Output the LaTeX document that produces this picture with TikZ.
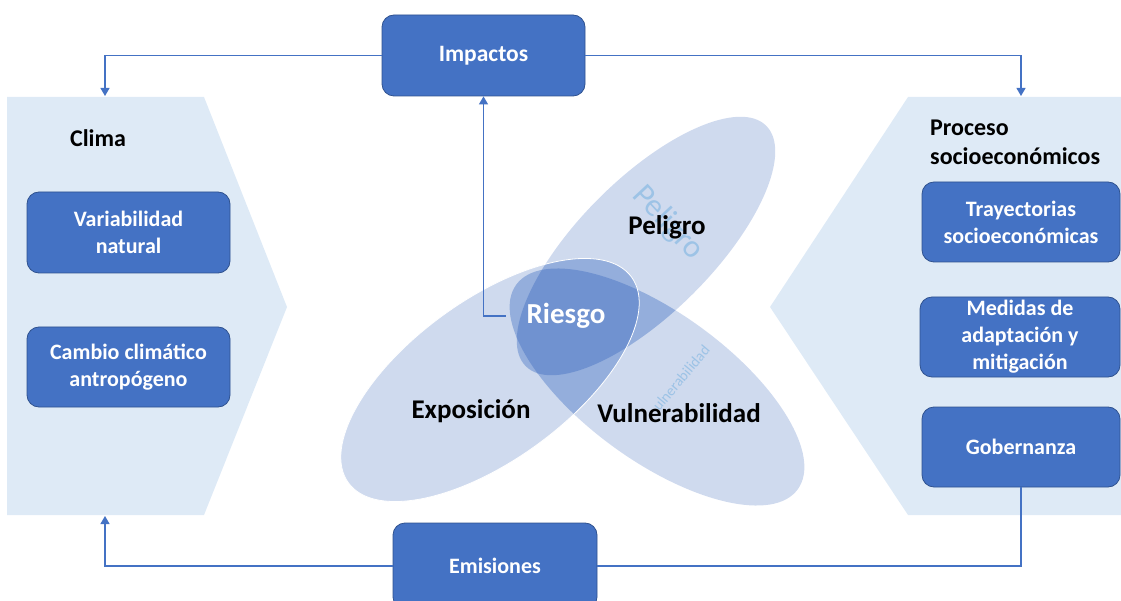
\documentclass[tikz,border=0pt]{standalone}
\usepackage{fontspec}
\setmainfont{Carlito}
\usetikzlibrary{arrows.meta}
\definecolor{boxblue}{HTML}{4472C4}
\definecolor{boxborder}{HTML}{2F528F}
\definecolor{panelblue}{HTML}{DEEAF6}
\definecolor{ellL}{HTML}{CFDAEE}
\definecolor{ellM}{HTML}{94AEDC}
\definecolor{ellD}{HTML}{7092D0}
\definecolor{ghostblue}{HTML}{9DC3E6}
\def\ellP{(646,246) ellipse [x radius=170pt, y radius=67pt]}
\def\ellE{(490,380) ellipse [x radius=175pt, y radius=80pt]}
\def\ellV{(657,387) ellipse [x radius=174pt, y radius=74pt]}
\tikzset{
  rotP/.style={rotate around={45:(646,246)}},
  rotE/.style={rotate around={36:(490,380)}},
  rotV/.style={rotate around={-36:(657,387)}},
  bluebox/.style={rectangle, rounded corners=12pt, fill=boxblue, draw=boxborder,
    line width=0.8pt, text=white, font=\bfseries\fontsize{22}{27}\selectfont,
    align=center, inner sep=0pt},
  link/.style={draw=boxblue, line width=1.2pt},
  arr/.style={link, -{Triangle[width=9pt,length=8pt]}},
  lbl/.style={font=\bfseries\fontsize{27}{32}\selectfont, text=black, inner sep=0pt},
  head/.style={font=\bfseries\fontsize{24}{29}\selectfont, text=black, inner sep=0pt, align=left},
  ghost/.style={text=ghostblue, inner sep=0pt}
}
\begin{document}
\begin{tikzpicture}[x=1pt,y=-1pt]
\useasboundingbox (0,0) rectangle (1121,601);
% side panels
\fill[panelblue] (7,97) -- (204,97) -- (287,307) -- (204,515) -- (7,515) -- cycle;
\fill[panelblue] (908,97) -- (1121,97) -- (1121,515) -- (908,515) -- (770,307) -- cycle;
% ellipses
\fill[ellL, rotP] \ellP;
\fill[ellL, rotE] \ellE;
\fill[ellL, rotV] \ellV;
\begin{scope}
  \clip[rotP] \ellP;
  \fill[ellM, rotE] \ellE;
  \fill[ellM, rotV] \ellV;
\end{scope}
\begin{scope}
  \clip[rotE] \ellE;
  \fill[ellM, rotV] \ellV;
\end{scope}
\begin{scope}
  \clip[rotP] \ellP;
  \clip[rotE] \ellE;
  \fill[ellD, rotV] \ellV;
\end{scope}
\draw[white, line width=0.8pt, rotE] \ellE;
% ghost texts
\node[ghost, rotate=-47, font=\fontsize{32}{36}\selectfont] (gpel) at (668,223) {Peligro};
\node[ghost, rotate=50, font=\fontsize{15}{18}\selectfont] (gvul) at (681,378) {ulnerabilidad};
% labels
\node[lbl, anchor=base] (peligro) at (667,235) {Peligro};
\node[lbl, anchor=base] (expo) at (471,418) {Exposición};
\node[lbl, anchor=base] (vuln) at (679,422) {Vulnerabilidad};
\node[font=\bfseries\fontsize{29}{34}\selectfont, text=white, inner sep=0pt,
      minimum width=120pt] (riesgo) at (566,316) {Riesgo};
\node[head, anchor=base] (clima) at (98,147) {Clima};
\node[head, anchor=west] (proceso) at (930,142) {Proceso\\socioeconómicos};
% boxes
\node[bluebox, minimum width=203pt, minimum height=81pt, font=\bfseries\fontsize{23.5}{28}\selectfont] (impactos) at (483.5,55.5) {Impactos};
\node[bluebox, minimum width=204pt, minimum height=86pt] (emisiones) at (495,566) {Emisiones};
\node[bluebox, minimum width=203pt, minimum height=81pt] (var) at (128.5,232.5) {Variabilidad\\natural};
\node[bluebox, minimum width=203pt, minimum height=80pt] (cambio) at (128.5,367) {Cambio climático\\antropógeno};
\node[bluebox, minimum width=198pt, minimum height=80pt] (tray) at (1021,222) {Trayectorias\\socioeconómicas};
\node[bluebox, minimum width=200pt, minimum height=80pt] (medidas) at (1020,337) {Medidas de\\adaptación y\\mitigación};
\node[bluebox, minimum width=198pt, minimum height=80pt] (gob) at (1021,447) {Gobernanza};
% connectors
\coordinate (climtop) at (105,96);
\coordinate (socitop) at (1021,96);
\coordinate (climbot) at (105,516);
\draw[arr] (impactos.west) -| (climtop);
\draw[arr] (impactos.east) -| (socitop);
\draw[arr] (emisiones.west) -| (climbot);
\draw[link] (gob.south) |- (emisiones.east);
\draw[arr] (riesgo.west) -| (impactos.south);
\end{tikzpicture}
\end{document}
